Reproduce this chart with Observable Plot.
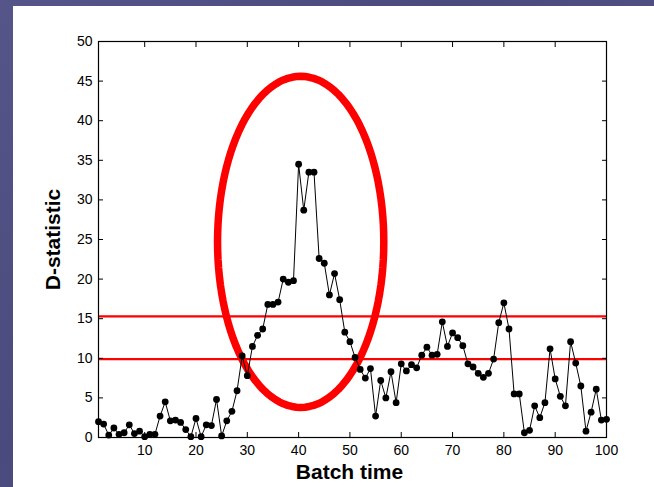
<!DOCTYPE html>
<html><head><meta charset="utf-8">
<script src="https://cdn.jsdelivr.net/npm/d3@7"></script>
<script src="https://cdn.jsdelivr.net/npm/@observablehq/plot@0.6"></script>
<style>
html,body{margin:0;padding:0;width:654px;height:487px;overflow:hidden;
  background:linear-gradient(135deg,#55558a 0%,#4a4a7c 40%,#525286 70%,#48487a 100%);}
#card{position:absolute;left:13px;top:6px;width:641px;height:481px;background:#fff;}
</style></head><body><div id="card"></div>
<script>
// Batch time index
const batchTime = Array.from({length: 100}, (_, i) => i + 1);
// D-statistic values
const dStatistic = [
  2.0, 1.7, 0.3, 1.2, 0.4, 0.6, 1.6, 0.5, 0.8, 0.1,
  0.4, 0.4, 2.7, 4.5, 2.1, 2.2, 1.9, 1.0, 0.1, 2.4,
  0.1, 1.6, 1.5, 4.8, 0.2, 2.1, 3.3, 5.9, 10.3, 7.8,
  11.5, 12.9, 13.7, 16.8, 16.8, 17.1, 20.0, 19.6, 19.8, 34.5,
  28.7, 33.5, 33.5, 22.6, 22.0, 18.0, 20.7, 17.4, 13.3, 12.1,
  10.1, 8.6, 7.5, 8.7, 2.7, 7.2, 5.0, 8.3, 4.4, 9.3,
  8.4, 9.2, 8.8, 10.4, 11.4, 10.4, 10.5, 14.6, 11.5, 13.2,
  12.6, 11.6, 9.3, 8.9, 8.1, 7.6, 8.1, 9.9, 14.5, 17.0,
  13.7, 5.5, 5.5, 0.6, 0.9, 4.0, 2.5, 4.4, 11.2, 7.4,
  5.2, 4.0, 12.1, 9.4, 6.5, 0.8, 3.2, 6.1, 2.2, 2.3
];
// Control limits
const controlLimits = [9.9, 15.3];
// Tick values
const xTicks = [10, 20, 30, 40, 50, 60, 70, 80, 90, 100];
const yTicks = [0, 5, 10, 15, 20, 25, 30, 35, 40, 45, 50];
// Highlight ellipse (data units)
const ellipseCenter = [40.4, 24.7];
const ellipseRadii = [16.2, 20.9];

const data = batchTime.map((t, i) => ({t, d: dStatistic[i]}));
const ellipse = d3.range(0, 360, 3).map(a => {
  const r = a * Math.PI / 180;
  return {x: ellipseCenter[0] + ellipseRadii[0] * Math.cos(r),
          y: ellipseCenter[1] + ellipseRadii[1] * Math.sin(r)};
});

const font = "'Liberation Sans', Arial, Helvetica, sans-serif";
const plot = Plot.plot({
  width: 641, height: 481,
  marginLeft: 85, marginRight: 48, marginTop: 35, marginBottom: 50,
  style: {fontFamily: font, fontSize: "14px", color: "#000", background: "transparent", overflow: "visible"},
  x: {domain: [1, 100]},
  y: {domain: [0, 50]},
  marks: [
    Plot.ruleY(controlLimits, {stroke: "#ff0000", strokeWidth: 2.2}),
    Plot.line(ellipse, {x: "x", y: "y", curve: "linear-closed", stroke: "#ff0000", strokeWidth: 7.5}),
    Plot.line(data, {x: "t", y: "d", stroke: "#000", strokeWidth: 1}),
    Plot.dot(data, {x: "t", y: "d", r: 3.4, fill: "#000", stroke: "none"}),
    Plot.frame({stroke: "#000", strokeWidth: 1.2}),
    Plot.axisX({ticks: xTicks, anchor: "bottom", tickSize: 0, tickPadding: 8, label: null, fontSize: 14}),
    Plot.axisX({ticks: xTicks, anchor: "bottom", tickSize: -5, tickFormat: () => "", label: null}),
    Plot.axisX({ticks: xTicks, anchor: "top", tickSize: -5, tickFormat: () => "", label: null}),
    Plot.axisY({ticks: yTicks, anchor: "left", tickSize: 0, tickPadding: 6, label: null, fontSize: 14}),
    Plot.axisY({ticks: yTicks, anchor: "left", tickSize: -5, tickFormat: () => "", label: null}),
    Plot.axisY({ticks: yTicks, anchor: "right", tickSize: -5, tickFormat: () => "", label: null}),
    Plot.text(["Batch time"], {frameAnchor: "bottom", lineAnchor: "middle", textAnchor: "middle", dy: 35, dx: -3, fontSize: 21, fontWeight: "bold", fontFamily: font}),
    Plot.text(["D-statistic"], {frameAnchor: "left", lineAnchor: "middle", textAnchor: "middle", rotate: -90, dx: -45, dy: 0, fontSize: 21, fontWeight: "bold", fontFamily: font})
  ]
});
document.getElementById("card").appendChild(plot);
</script>
</body></html>
